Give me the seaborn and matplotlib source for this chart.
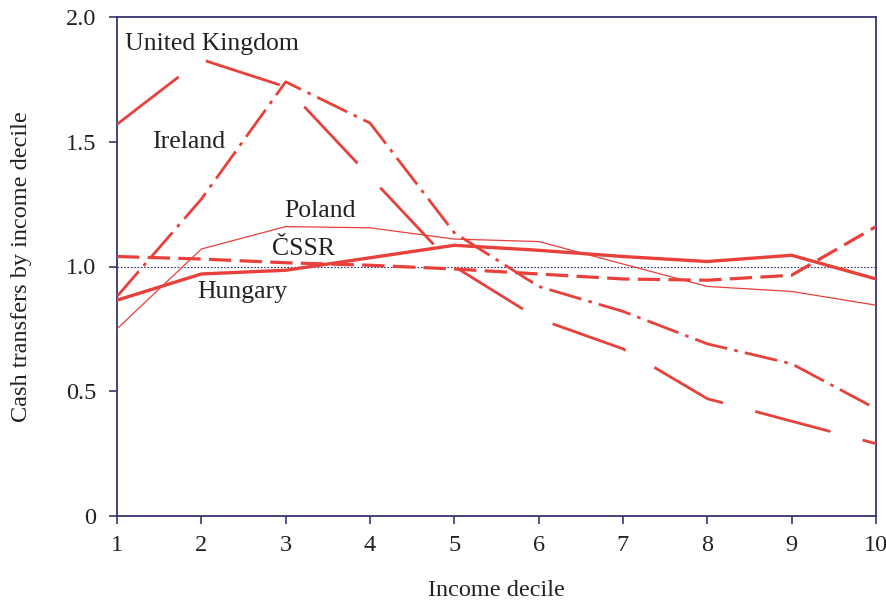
import matplotlib
matplotlib.use("Agg")
import matplotlib.pyplot as plt
import seaborn as sns
import pandas as pd

deciles = [1, 2, 3, 4, 5, 6, 7, 8, 9, 10]
united_kingdom = [1.57, 1.83, 1.72, 1.36, 1.00, 0.79, 0.67, 0.47, 0.38, 0.29]
ireland = [0.88, 1.27, 1.74, 1.575, 1.135, 0.92, 0.82, 0.69, 0.61, 0.43]
poland = [0.75, 1.07, 1.16, 1.155, 1.11, 1.10, 1.01, 0.92, 0.90, 0.845]
cssr = [1.04, 1.03, 1.015, 1.005, 0.99, 0.97, 0.95, 0.945, 0.965, 1.16]
hungary = [0.865, 0.97, 0.985, 1.035, 1.085, 1.065, 1.04, 1.02, 1.045, 0.95]

names = ["United Kingdom", "Ireland", "Poland", "ČSSR", "Hungary"]
series = [united_kingdom, ireland, poland, cssr, hungary]

df = pd.DataFrame({
    "decile": deciles * len(names),
    "value": [v for s in series for v in s],
    "country": [n for n in names for _ in deciles],
})

sns.set_theme(style="white")
plt.rcParams["font.family"] = ["Liberation Serif", "DejaVu Serif"]

red = "#e8403a"
navy = "#35356f"
txt = "#222222"

fig = plt.figure(figsize=(8.87, 6.06), dpi=100)
ax = fig.add_axes([117 / 887, 90 / 606, (876 - 117) / 887, (516 - 17) / 606])

dashes = {
    "United Kingdom": (28, 12),
    "Ireland": (12, 2.6, 1.3, 2.6),
    "Poland": "",
    "ČSSR": (7, 2.6),
    "Hungary": "",
}
sizes = {
    "United Kingdom": 2.0,
    "Ireland": 2.0,
    "Poland": 0.9,
    "ČSSR": 2.3,
    "Hungary": 2.4,
}

ax.axhline(1.0, xmin=0, xmax=1, color=navy, lw=0.8, ls=(0, (1.5, 1.5)), zorder=1)

sns.lineplot(
    data=df, x="decile", y="value", hue="country", style="country",
    size="country", sizes=sizes, dashes=dashes,
    palette={n: red for n in names}, legend=False, ax=ax, zorder=3,
)

ax.set_xlim(1, 10)
ax.set_ylim(0, 2.0)
ax.set_xticks(deciles)
ax.set_xticklabels([str(d) for d in deciles])
ax.set_yticks([0, 0.5, 1.0, 1.5, 2.0])
ax.set_yticklabels(["0", "0.5", "1.0", "1.5", "2.0"])

for sp in ax.spines.values():
    sp.set_color(navy)
    sp.set_linewidth(1.3)

ax.tick_params(axis="both", which="major", direction="out", length=6, width=1.2,
               color=navy, labelcolor=txt, labelsize=17.5, bottom=True, left=True)
ax.tick_params(axis="x", pad=8)
ax.tick_params(axis="y", pad=9)

ax.set_xlabel("Income decile", fontsize=17.5, color=txt, labelpad=17)
ax.set_ylabel("Cash transfers by income decile", fontsize=17.5, color=txt, labelpad=24)

labels = [
    ("United Kingdom", 1.095, 1.892),
    ("Ireland", 1.415, 1.498),
    ("Poland", 2.98, 1.221),
    ("ČSSR", 2.84, 1.072),
    ("Hungary", 1.95, 0.896),
]
for t, x, y in labels:
    ax.text(x, y, t, fontsize=18.5, color=txt, ha="left", va="center", zorder=5)

fig.savefig("out.png", dpi=100)
